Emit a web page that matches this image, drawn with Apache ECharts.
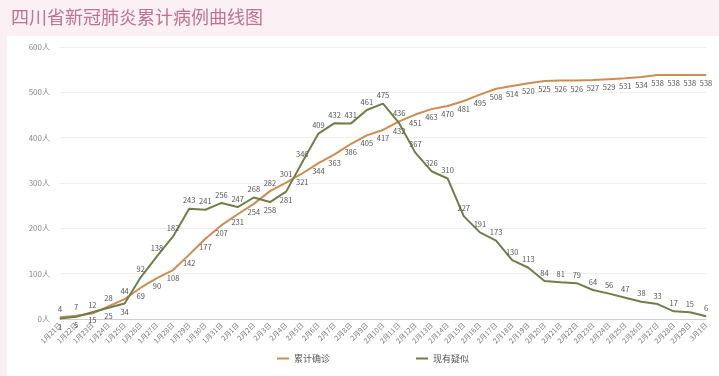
<!DOCTYPE html>
<html>
<head>
<meta charset="utf-8">
<script src="https://cdn.jsdelivr.net/npm/echarts@6/dist/echarts.min.js"></script>
<style>
  html, body { margin: 0; padding: 0; background: #fbf0f3; }
  #chart { width: 719px; height: 376px; }
</style>
</head>
<body>
<div id="chart"></div>
<script>
// 日期 1月21日 - 3月1日
const dates = [
  '1月21日', '1月22日', '1月23日', '1月24日', '1月25日', '1月26日', '1月27日', '1月28日',
  '1月29日', '1月30日', '1月31日', '2月1日', '2月2日', '2月3日', '2月4日', '2月5日',
  '2月6日', '2月7日', '2月8日', '2月9日', '2月10日', '2月11日', '2月12日', '2月13日',
  '2月14日', '2月15日', '2月16日', '2月17日', '2月18日', '2月19日', '2月20日', '2月21日',
  '2月22日', '2月23日', '2月24日', '2月25日', '2月26日', '2月27日', '2月28日', '2月29日', '3月1日'
]
const confirmed = [
  4, 7, 12, 28, 44, 69, 90, 108, 142, 177, 207, 231, 254, 282, 301, 321, 344, 363, 386, 405,
  417, 436, 451, 463, 470, 481, 495, 508, 514, 520, 525, 526, 526, 527, 529, 531, 534, 538, 538, 538, 538
]
const suspected = [
  1, 5, 15, 25, 34, 92, 138, 182, 243, 241, 256, 247, 268, 258, 281, 346, 409, 432, 431, 461,
  475, 432, 367, 326, 310, 227, 191, 173, 130, 113, 84, 81, 79, 64, 56, 47, 38, 33, 17, 15, 6
]
const yTicks = [0, 100, 200, 300, 400, 500, 600]

// 标签放在线上方的点（其余在下方）
const confirmedTop = [0, 1, 2, 3, 4, 13, 14, 21]
const suspectedBottom = [0, 1, 2, 3, 4, 13, 14, 21]

function withLabels(values, pick) {
  return values.map((v, i) => ({
    value: v,
    label: { position: pick(i) }
  }))
}

const chart = echarts.init(document.getElementById('chart'))
chart.setOption({
  backgroundColor: '#fbf0f3',
  animation: false,
  textStyle: { fontFamily: 'Noto Sans CJK SC' },
  title: {
    text: '四川省新冠肺炎累计病例曲线图',
    left: 6,
    top: 3,
    textStyle: { color: '#c0728e', fontSize: 18, fontWeight: 'normal', fontFamily: 'Noto Sans CJK SC' }
  },
  graphic: [{
    type: 'rect',
    left: 7,
    top: 36,
    z: -10,
    shape: { width: 712, height: 340 },
    style: { fill: '#ffffff' }
  }],
  grid: { left: 60, right: 13, top: 47, bottom: 57 },
  legend: {
    bottom: 8,
    left: 272,
    itemGap: 86,
    itemWidth: 12,
    itemHeight: 2,
    icon: 'rect',
    textStyle: { fontSize: 9, color: '#555' },
    data: ['累计确诊', '现有疑似']
  },
  xAxis: {
    type: 'category',
    boundaryGap: false,
    data: dates,
    axisTick: { show: false },
    axisLine: { lineStyle: { color: '#cfcfcf' } },
    axisLabel: { interval: 0, rotate: 45, fontSize: 7, color: '#777', margin: 5 }
  },
  yAxis: {
    type: 'value',
    min: yTicks[0],
    max: yTicks[yTicks.length - 1],
    interval: 100,
    axisLine: { show: false },
    axisTick: { show: false },
    splitLine: { lineStyle: { color: '#efefef' } },
    axisLabel: { formatter: '{value}人', fontSize: 8, color: '#888', margin: 10 }
  },
  series: [
    {
      name: '累计确诊',
      type: 'line',
      symbol: 'circle',
      symbolSize: 1,
      color: '#cc8d52',
      lineStyle: { width: 2, color: '#cc8d52' },
      label: { show: true, fontSize: 7.5, color: '#555', distance: 4 },
      data: withLabels(confirmed, i => confirmedTop.includes(i) ? 'top' : 'bottom')
    },
    {
      name: '现有疑似',
      type: 'line',
      symbol: 'circle',
      symbolSize: 1,
      color: '#6f7f47',
      lineStyle: { width: 2, color: '#6f7f47' },
      label: { show: true, fontSize: 7.5, color: '#555', distance: 4 },
      data: withLabels(suspected, i => suspectedBottom.includes(i) ? 'bottom' : 'top')
    }
  ]
})
</script>
</body>
</html>
